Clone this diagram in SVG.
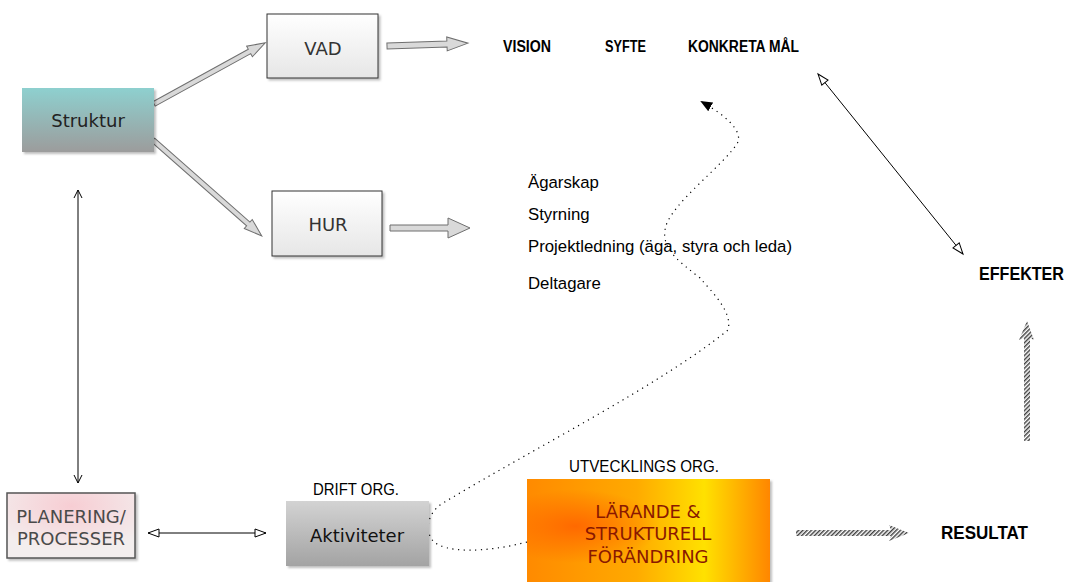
<svg xmlns="http://www.w3.org/2000/svg" width="1073" height="582" viewBox="0 0 1073 582">
<style>
.box{font-family:"DejaVu Sans",Verdana,sans-serif;font-size:18px;text-anchor:middle}
.lbl{font-family:"Liberation Sans",Arial,sans-serif;font-size:16.8px;fill:#000}
.bold{font-family:"Liberation Sans",Arial,sans-serif;font-weight:bold;fill:#000}
.thin{stroke:#000;stroke-width:1;fill:none}
.block{fill:#d9d9d9;stroke:#6f6f6f;stroke-width:1}
</style>
<defs>
<linearGradient id="gStr" x1="0" y1="0" x2="0" y2="1">
<stop offset="0" stop-color="#8ed0cf"/><stop offset="1" stop-color="#9c9c9c"/>
</linearGradient>
<linearGradient id="gBox" x1="0" y1="0" x2="0" y2="1">
<stop offset="0" stop-color="#ffffff"/><stop offset="1" stop-color="#e6e6e6"/>
</linearGradient>
<linearGradient id="gAkt" x1="0" y1="0" x2="0" y2="1">
<stop offset="0" stop-color="#d3d3d3"/><stop offset="1" stop-color="#a3a3a3"/>
</linearGradient>
<radialGradient id="gPlan" cx="0.5" cy="0.2" r="0.7">
<stop offset="0" stop-color="#f7cdd3"/><stop offset="1" stop-color="#f3eeee"/>
</radialGradient>
<linearGradient id="gLar" x1="0" y1="0" x2="1" y2="0">
<stop offset="0" stop-color="#ff8a00"/><stop offset="0.45" stop-color="#ffaa00"/><stop offset="0.73" stop-color="#ffe100"/><stop offset="1" stop-color="#ff8600"/>
</linearGradient>
<radialGradient id="gLarSpot" cx="0.2" cy="0.45" r="0.35">
<stop offset="0" stop-color="#ff6400" stop-opacity="0.9"/><stop offset="1" stop-color="#ff6400" stop-opacity="0"/>
</radialGradient>
<pattern id="hatch" width="3" height="3" patternUnits="userSpaceOnUse" patternTransform="rotate(45)">
<line x1="0.8" y1="0" x2="0.8" y2="3" stroke="#000" stroke-width="1.1"/>
</pattern>
<filter id="sh" x="-10%" y="-10%" width="130%" height="130%">
<feDropShadow dx="2" dy="2" stdDeviation="1.2" flood-color="#000" flood-opacity="0.25"/>
</filter>
<marker id="vOpen" markerUnits="userSpaceOnUse" markerWidth="12" markerHeight="12" refX="10" refY="5" orient="auto-start-reverse" viewBox="0 0 12 10">
<path d="M2,1 L10,5 L2,9" fill="none" stroke="#000" stroke-width="1"/>
</marker>
<marker id="triOpen" markerUnits="userSpaceOnUse" markerWidth="14" markerHeight="12" refX="12" refY="5" orient="auto-start-reverse" viewBox="0 0 14 10">
<path d="M1,1 L12,5 L1,9 Z" fill="#fff" stroke="#000" stroke-width="1"/>
</marker>
<marker id="triFill" markerUnits="userSpaceOnUse" markerWidth="14" markerHeight="12" refX="10" refY="5" orient="auto" viewBox="0 0 14 10">
<path d="M0,0 L12,5 L0,10 Z" fill="#000"/>
</marker>
</defs>
<rect width="1073" height="582" fill="#fff"/>

<g id="connectors">
<polygon class="block" transform="translate(154,104) rotate(-28.8)" points="0,-2.5 109,-2.5 109,-6 127,0 109,6 109,2.5 0,2.5"/>
<polygon class="block" transform="translate(153,140) rotate(41.4)" points="0,-2.5 127,-2.5 127,-6 145,0 127,6 127,2.5 0,2.5"/>
<polygon class="block" transform="translate(387,46) rotate(-2)" points="0,-3 60,-3 60,-7 81,0 60,7 60,3 0,3"/>
<polygon class="block" transform="translate(390,228)" points="0,-3 58,-3 58,-10 80,0 58,10 58,3 0,3"/>
<line class="thin" x1="78" y1="190" x2="78" y2="483" marker-start="url(#vOpen)" marker-end="url(#vOpen)"/>
<line class="thin" x1="148" y1="533" x2="266" y2="533" marker-start="url(#triOpen)" marker-end="url(#triOpen)"/>
<line class="thin" x1="818" y1="74" x2="963" y2="254" marker-start="url(#triOpen)" marker-end="url(#triOpen)"/>
<path d="M527,542 C485,553 445,553 433,541 C424,530 428,512 443,503 C540,445 660,385 728,330 C733,312 712,292 700,278 C680,262 662,250 665,230 C668,205 725,165 738,142 C742,130 725,115 702,102" fill="none" stroke="#000" stroke-width="1.2" stroke-dasharray="1.2,4.5" marker-end="url(#triFill)"/>
<polygon fill="url(#hatch)" points="796,530 891,530 889,525 909,533 889,541 891,536 796,536"/>
<polygon fill="url(#hatch)" points="1024,441 1024,338 1019,340 1027,321 1034,340 1030,338 1030,441"/>
</g>

<g id="struktur">
<rect x="22" y="88" width="132" height="64" fill="url(#gStr)" filter="url(#sh)"/>
<text class="box" x="88" y="127" fill="#222">Struktur</text>
</g>
<g id="vad">
<rect x="267" y="14" width="111" height="64" fill="url(#gBox)" stroke="#333" stroke-width="1" filter="url(#sh)"/>
<text class="box" x="323" y="55" fill="#333">VAD</text>
</g>
<g id="hur">
<rect x="272" y="191" width="110" height="65" fill="url(#gBox)" stroke="#333" stroke-width="1" filter="url(#sh)"/>
<text class="box" x="328" y="231" fill="#333">HUR</text>
</g>
<g id="vision">
<text class="bold" x="503" y="52" font-size="16" textLength="48" lengthAdjust="spacingAndGlyphs">VISION</text>
</g>
<g id="syfte">
<text class="bold" x="605" y="52" font-size="16" textLength="41" lengthAdjust="spacingAndGlyphs">SYFTE</text>
</g>
<g id="konkreta">
<text class="bold" x="688" y="52" font-size="16" textLength="111" lengthAdjust="spacingAndGlyphs">KONKRETA MÅL</text>
</g>
<g id="hur-list">
<text class="lbl" x="528" y="188">Ägarskap</text>
<text class="lbl" x="528" y="220">Styrning</text>
<text class="lbl" x="528" y="252">Projektledning (äga, styra och leda)</text>
<text class="lbl" x="528" y="289">Deltagare</text>
</g>
<g id="effekter">
<text class="bold" x="979" y="280" font-size="18" textLength="85" lengthAdjust="spacingAndGlyphs">EFFEKTER</text>
</g>
<g id="resultat">
<text class="bold" x="941" y="539" font-size="19" textLength="87" lengthAdjust="spacingAndGlyphs">RESULTAT</text>
</g>
<g id="planering">
<rect x="7" y="493" width="128" height="65" fill="url(#gPlan)" stroke="#555" stroke-width="1.5" filter="url(#sh)"/>
<text class="box" x="71" y="523" fill="#4a4a4a" font-size="18.5">PLANERING/</text>
<text class="box" x="71" y="545" fill="#4a4a4a" font-size="18.5">PROCESSER</text>
</g>
<g id="aktiviteter">
<text class="lbl" x="313" y="495" font-size="16" textLength="86" lengthAdjust="spacingAndGlyphs">DRIFT ORG.</text>
<rect x="286" y="501" width="143" height="65" fill="url(#gAkt)" filter="url(#sh)"/>
<text class="box" x="357" y="542" fill="#111">Aktiviteter</text>
</g>
<g id="larande">
<text class="lbl" x="569" y="472" font-size="16" textLength="150" lengthAdjust="spacingAndGlyphs">UTVECKLINGS ORG.</text>
<rect x="527" y="479" width="243" height="105" fill="url(#gLar)" filter="url(#sh)"/>
<rect x="527" y="479" width="243" height="105" fill="url(#gLarSpot)"/>
<text class="box" x="648" y="518" fill="#8a1800">LÄRANDE &amp;</text>
<text class="box" x="648" y="540" fill="#8a1800">STRUKTURELL</text>
<text class="box" x="648" y="563" fill="#8a1800">FÖRÄNDRING</text>
</g>
</svg>
